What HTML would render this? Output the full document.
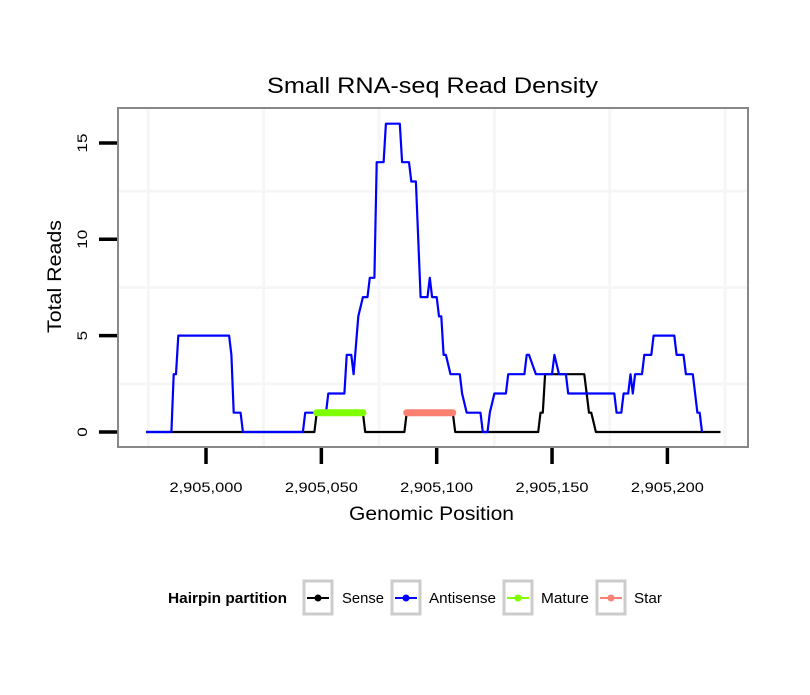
<!DOCTYPE html>
<html><head><meta charset="utf-8"><style>
body{margin:0;background:#fff;}
text{font-family:"Liberation Sans",sans-serif;}
</style></head><body>
<svg id="chart" width="810" height="690" xmlns="http://www.w3.org/2000/svg">
<rect width="810" height="690" fill="#fff"/>
<text x="267" y="93" font-size="22" textLength="331" lengthAdjust="spacingAndGlyphs">Small RNA-seq Read Density</text>
<g id="grid"></g>
<g id="marks"></g>
<rect x="118" y="108" width="630" height="339" fill="none" stroke="#888" stroke-width="2"/>
<g id="axes"></g>
<text x="349" y="520" font-size="19" textLength="165" lengthAdjust="spacingAndGlyphs">Genomic Position</text>
<text transform="translate(61,333) rotate(-90)" font-size="19" textLength="113" lengthAdjust="spacingAndGlyphs">Total Reads</text>
<g>
<text x="168" y="603" font-size="15" font-weight="bold" textLength="119" lengthAdjust="spacingAndGlyphs">Hairpin partition</text>
<g><rect x="304" y="581" width="28" height="33" fill="#fff" stroke="#ccc" stroke-width="3"/><line x1="307" y1="598" x2="329" y2="598" stroke="#000" stroke-width="2"/><circle cx="318" cy="598" r="3.5" fill="#000"/><text x="342" y="603" font-size="15" textLength="42" lengthAdjust="spacingAndGlyphs">Sense</text></g>
<g><rect x="392" y="581" width="28" height="33" fill="#fff" stroke="#ccc" stroke-width="3"/><line x1="395" y1="598" x2="417" y2="598" stroke="#00f" stroke-width="2"/><circle cx="406" cy="598" r="3.5" fill="#00f"/><text x="429" y="603" font-size="15" textLength="67" lengthAdjust="spacingAndGlyphs">Antisense</text></g>
<g><rect x="504" y="581" width="28" height="33" fill="#fff" stroke="#ccc" stroke-width="3"/><line x1="507" y1="598" x2="529" y2="598" stroke="#7fff00" stroke-width="2"/><circle cx="518" cy="598" r="3.5" fill="#7fff00"/><text x="541" y="603" font-size="15" textLength="48" lengthAdjust="spacingAndGlyphs">Mature</text></g>
<g><rect x="597" y="581" width="28" height="33" fill="#fff" stroke="#ccc" stroke-width="3"/><line x1="600" y1="598" x2="622" y2="598" stroke="#fa8072" stroke-width="2"/><circle cx="611" cy="598" r="3.5" fill="#fa8072"/><text x="634" y="603" font-size="15" textLength="28" lengthAdjust="spacingAndGlyphs">Star</text></g>
</g>
</svg>
<script>
const BASE = 2905000;
const antisensePos = [-26,-15,-14,-13,-12,10,11,12,15,16,42,43,52,53,60,61,63,64,66,68,70,71,73,74,77,78,84,85,88,89,91,93,96,97,98,100,101,102,103,104,106,110,111,113,119,120,122,123,125,130,131,138,139,140,143,150,151,153,156,157,177,178,180,181,183,184,185,186,189,190,193,194,203,204,207,208,211,213,214,215];
const antisenseVal = [0,0,3,3,5,5,4,1,1,0,0,1,1,2,2,4,4,3,6,7,7,8,8,14,14,16,16,14,14,13,13,7,7,8,7,7,6,6,4,4,3,3,2,1,1,0,0,1,2,2,3,3,4,4,3,3,4,3,3,2,2,1,1,2,2,3,2,3,3,4,4,5,5,4,4,3,3,1,1,0];
const sensePos = [-26,47,48,68,69,86,87,107,108,144,145,146,147,164,166,167,169,223];
const senseVal = [0,0,1,1,0,0,1,1,0,0,1,1,3,3,1,1,0,0];
const maturePos = [48,68];
const matureVal = [1,1];
const starPos = [87,107];
const starVal = [1,1];
const xTicks = [0,50,100,150,200];
const xTickLabels = ["2,905,000","2,905,050","2,905,100","2,905,150","2,905,200"];
const yTicks = [0,5,10,15];
const xGrid = [-25,25,75,125,175,225];
const yGrid = [2.5,7.5,12.5];

const xs = p => 206 + p * 2.307;
const ys = v => 432 - v * 19.27;
const NS = "http://www.w3.org/2000/svg";
function mk(tag, attrs, parent){const e=document.createElementNS(NS,tag);for(const k in attrs)e.setAttribute(k,attrs[k]);parent.appendChild(e);return e;}
const grid=document.getElementById('grid'), marks=document.getElementById('marks'), axes=document.getElementById('axes');
mk('rect',{x:118,y:108,width:630,height:339,fill:'#fff'},grid);
xGrid.forEach(g=>{const l=mk('line',{x1:xs(g),x2:xs(g),y1:109,y2:446,stroke:'#f6f6f6','stroke-width':3},grid);

});
yGrid.forEach(g=>{const l=mk('line',{x1:119,x2:747,y1:ys(g),y2:ys(g),stroke:'#f6f6f6','stroke-width':3},grid);

});
function line(pos,val,color,w,name,cap){
  const d=pos.map((p,i)=>(i?'L':'M')+xs(p).toFixed(1)+','+ys(val[i]).toFixed(1)).join('');
  const e=mk('path',{d:d,fill:'none',stroke:color,'stroke-width':w,'stroke-linejoin':'round','stroke-linecap':cap},marks);
  
  
}
line(sensePos,senseVal,'#000',2.2,'sense-line','butt');
line(antisensePos,antisenseVal,'#00f',2.2,'antisense-line','butt');
line(maturePos,matureVal,'#7fff00',7,'mature-line','round');
line(starPos,starVal,'#fa8072',7,'star-line','round');
xTicks.forEach((t,i)=>{
  const l=mk('line',{x1:xs(t),x2:xs(t),y1:448,y2:464,stroke:'#000','stroke-width':3.5},axes);
  
  
  const tx=mk('text',{x:xs(t)-36.5,y:492,'font-size':14,textLength:73,lengthAdjust:'spacingAndGlyphs'},axes);
  tx.textContent=xTickLabels[i];
  
  
});
yTicks.forEach(t=>{
  const s=String(t);
  const w=s.length*9.5;
  const l=mk('line',{x1:99,x2:117,y1:ys(t),y2:ys(t),stroke:'#000','stroke-width':3.5},axes);
  
  
  const tx=mk('text',{transform:`translate(87,${ys(t)+w/2}) rotate(-90)`,'font-size':14,textLength:w,lengthAdjust:'spacingAndGlyphs'},axes);
  tx.textContent=s;
  
  
});
</script>
</body></html>
